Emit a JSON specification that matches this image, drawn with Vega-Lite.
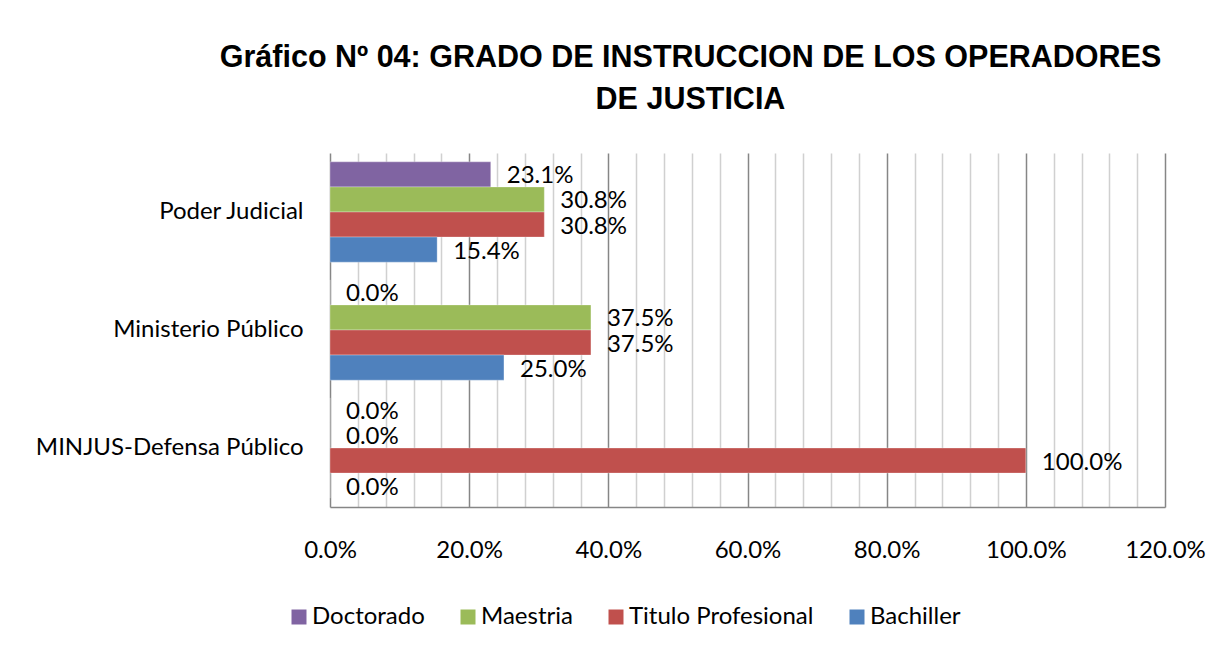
{
  "$schema": "https://vega.github.io/schema/vega-lite/v6.json",
  "width": 835,
  "height": 354,
  "autosize": {"type": "none"},
  "padding": {"left": 330, "top": 153, "right": 59, "bottom": 142},
  "background": "white",
  "config": {
    "view": {"stroke": null},
    "font": "Lato"
  },
  "title": {
    "text": ["Gráfico Nº 04: GRADO DE INSTRUCCION DE LOS OPERADORES", "DE JUSTICIA"],
    "font": "Liberation Sans",
    "fontSize": 30.5,
    "fontWeight": "bold",
    "color": "#000000",
    "anchor": "middle",
    "dx": -57,
    "offset": 38,
    "lineHeight": 42
  },
  "data": {
    "values": [
      {"entidad": "Poder Judicial", "grado": "Doctorado", "valor": 0.231},
      {"entidad": "Poder Judicial", "grado": "Maestria", "valor": 0.308},
      {"entidad": "Poder Judicial", "grado": "Titulo Profesional", "valor": 0.308},
      {"entidad": "Poder Judicial", "grado": "Bachiller", "valor": 0.154},
      {"entidad": "Ministerio Público", "grado": "Doctorado", "valor": 0.0},
      {"entidad": "Ministerio Público", "grado": "Maestria", "valor": 0.375},
      {"entidad": "Ministerio Público", "grado": "Titulo Profesional", "valor": 0.375},
      {"entidad": "Ministerio Público", "grado": "Bachiller", "valor": 0.25},
      {"entidad": "MINJUS-Defensa Público", "grado": "Doctorado", "valor": 0.0},
      {"entidad": "MINJUS-Defensa Público", "grado": "Maestria", "valor": 0.0},
      {"entidad": "MINJUS-Defensa Público", "grado": "Titulo Profesional", "valor": 1.0},
      {"entidad": "MINJUS-Defensa Público", "grado": "Bachiller", "valor": 0.0}
    ]
  },
  "encoding": {
    "y": {
      "field": "entidad",
      "type": "nominal",
      "sort": ["Poder Judicial", "Ministerio Público", "MINJUS-Defensa Público"],
      "scale": {"paddingInner": 0.15, "paddingOuter": 0.075},
      "axis": {
        "title": null,
        "domain": false,
        "ticks": false,
        "labelFont": "Lato",
        "labelFontSize": 24,
        "labelColor": "#000000",
        "labelPadding": 27,
        "labelLimit": 400
      }
    },
    "yOffset": {
      "field": "grado",
      "type": "nominal",
      "sort": ["Doctorado", "Maestria", "Titulo Profesional", "Bachiller"],
      "scale": {"paddingInner": 0, "paddingOuter": 0}
    },
    "x": {
      "field": "valor",
      "type": "quantitative",
      "scale": {"domain": [0, 1.2], "nice": false},
      "axis": {
        "title": null,
        "values": [0, 0.04, 0.08, 0.12, 0.16, 0.2, 0.24, 0.28, 0.32, 0.36, 0.4, 0.44, 0.48, 0.52, 0.56, 0.6, 0.64, 0.68, 0.72, 0.76, 0.8, 0.84, 0.88, 0.92, 0.96, 1.0, 1.04, 1.08, 1.12, 1.16, 1.2],
        "labelExpr": "abs(round(datum.value*5) - datum.value*5) < 0.001 ? format(datum.value, '.1%') : ''",
        "labelOverlap": false,
        "labelFlush": false,
        "labelAlign": "center",
        "labelFont": "Lato",
        "labelFontSize": 24,
        "labelColor": "#000000",
        "labelPadding": 31,
        "ticks": false,
        "domainColor": "#868686",
        "domainWidth": 1.5,
        "grid": true,
        "gridColor": {
          "condition": {"test": "abs(round(datum.value*5) - datum.value*5) < 0.001", "value": "#868686"},
          "value": "#d0d0d0"
        },
        "gridWidth": 1.5
      }
    }
  },
  "layer": [
    {
      "mark": {"type": "bar", "stroke": "#ffffff", "strokeWidth": 0.5, "strokeOpacity": 0.6},
      "encoding": {
        "color": {
          "field": "grado",
          "type": "nominal",
          "scale": {
            "domain": ["Doctorado", "Maestria", "Titulo Profesional", "Bachiller"],
            "range": ["#8064A2", "#9BBB59", "#C0504D", "#4F81BD"]
          },
          "legend": {
            "title": null,
            "orient": "none",
            "direction": "horizontal",
            "legendX": -43,
            "legendY": 452,
            "symbolType": "square",
            "symbolSize": 225,
            "symbolStrokeWidth": 0,
            "labelFont": "Lato",
            "labelFontSize": 24,
            "labelColor": "#000000",
            "labelOffset": 1,
            "columnPadding": 31,
            "labelLimit": 400
          }
        }
      }
    },
    {
      "mark": {"type": "text", "align": "left", "baseline": "middle", "dx": 16, "dy": 2, "fontSize": 24, "font": "Lato", "color": "#000000"},
      "encoding": {
        "text": {"field": "valor", "type": "quantitative", "format": ".1%"}
      }
    }
  ]
}
